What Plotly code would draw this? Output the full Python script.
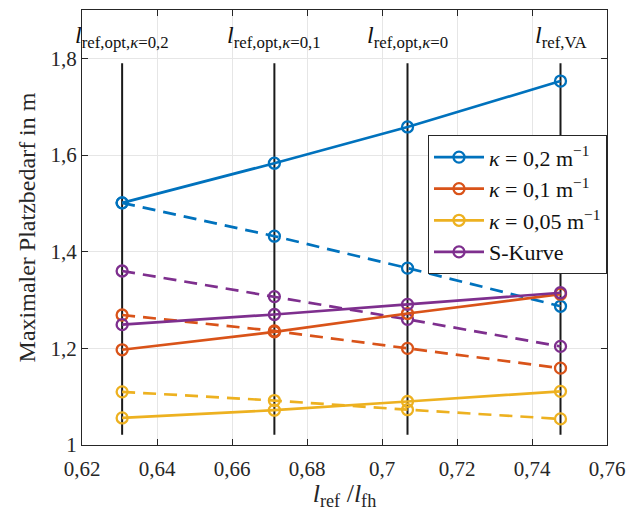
import plotly.graph_objects as go

x_ref = [0.6307, 0.6713, 0.7068, 0.7476]
ref_labels = ["<i>l</i><sub>ref,opt,<i>κ</i>=0,2</sub>", "<i>l</i><sub>ref,opt,<i>κ</i>=0,1</sub>",
              "<i>l</i><sub>ref,opt,<i>κ</i>=0</sub>", "<i>l</i><sub>ref,VA</sub>"]

names = ["<i>κ</i> = 0,2 m<sup>−1</sup>", "<i>κ</i> = 0,1 m<sup>−1</sup>",
         "<i>κ</i> = 0,05 m<sup>−1</sup>", "S-Kurve"]
colors = ["#0072BD", "#D95319", "#EDB120", "#7E2F8E"]

solid_vals = [
    [1.501, 1.583, 1.658, 1.753],
    [1.197, 1.234, 1.272, 1.312],
    [1.056, 1.072, 1.090, 1.111],
    [1.249, 1.270, 1.291, 1.315],
]
dashed_vals = [
    [1.501, 1.432, 1.366, 1.287],
    [1.269, 1.236, 1.200, 1.159],
    [1.110, 1.092, 1.073, 1.054],
    [1.360, 1.307, 1.260, 1.204],
]

vline_y = [1.021, 1.79]
FONT = "Liberation Serif, DejaVu Serif, serif"

fig = go.Figure()
for xv in x_ref:
    fig.add_trace(go.Scatter(x=[xv, xv], y=vline_y, mode="lines",
                             line=dict(color="#1a1a1a", width=2), showlegend=False, hoverinfo="skip"))

for vals, c in zip(dashed_vals, colors):
    fig.add_trace(go.Scatter(x=x_ref, y=vals, mode="lines+markers", showlegend=False,
                             line=dict(color=c, width=2.7, dash="13px,8px"),
                             marker=dict(symbol="circle-open", size=11, line=dict(width=2.3, color=c))))
for vals, c, n in zip(solid_vals, colors, names):
    fig.add_trace(go.Scatter(x=x_ref, y=vals, mode="lines+markers", name=n,
                             line=dict(color=c, width=2.7),
                             marker=dict(symbol="circle-open", size=11, line=dict(width=2.3, color=c))))

for xv, lab in zip(x_ref, ref_labels):
    fig.add_annotation(x=xv, y=1.845, text=lab, showarrow=False,
                       font=dict(family=FONT, size=24, color="#111"), xanchor="center", yanchor="middle")

axis_common = dict(showline=True, linecolor="#262626", linewidth=1, mirror="ticks",
                   ticks="inside", ticklen=6, tickcolor="#262626",
                   showgrid=True, gridcolor="#e6e6e6", gridwidth=1, zeroline=False,
                   tickfont=dict(family=FONT, size=21, color="#262626"))

fig.update_xaxes(range=[0.62, 0.76], dtick=0.02, tick0=0.62, ticklabelstandoff=5,
                 title=dict(text="<i>l</i><sub>ref</sub> /<i>l</i><sub>fh</sub>",
                            font=dict(family=FONT, size=26, color="#262626"), standoff=0),
                 **axis_common)
fig.update_yaxes(range=[1, 1.9], dtick=0.2, tick0=1,
                 title=dict(text="Maximaler Platzbedarf in m",
                            font=dict(family=FONT, size=24, color="#262626"), standoff=8),
                 **axis_common)

fig.update_layout(
    width=634, height=511, separators=",.",
    margin=dict(l=82, r=22, t=9, b=66),
    plot_bgcolor="white", paper_bgcolor="white",
    legend=dict(x=1, y=0.712, xanchor="right", yanchor="top",
                bgcolor="white", bordercolor="#262626", borderwidth=1,
                font=dict(family=FONT, size=22, color="#111"),
                tracegroupgap=0, itemwidth=50),
    showlegend=True,
)

fig.write_html("out.html")
